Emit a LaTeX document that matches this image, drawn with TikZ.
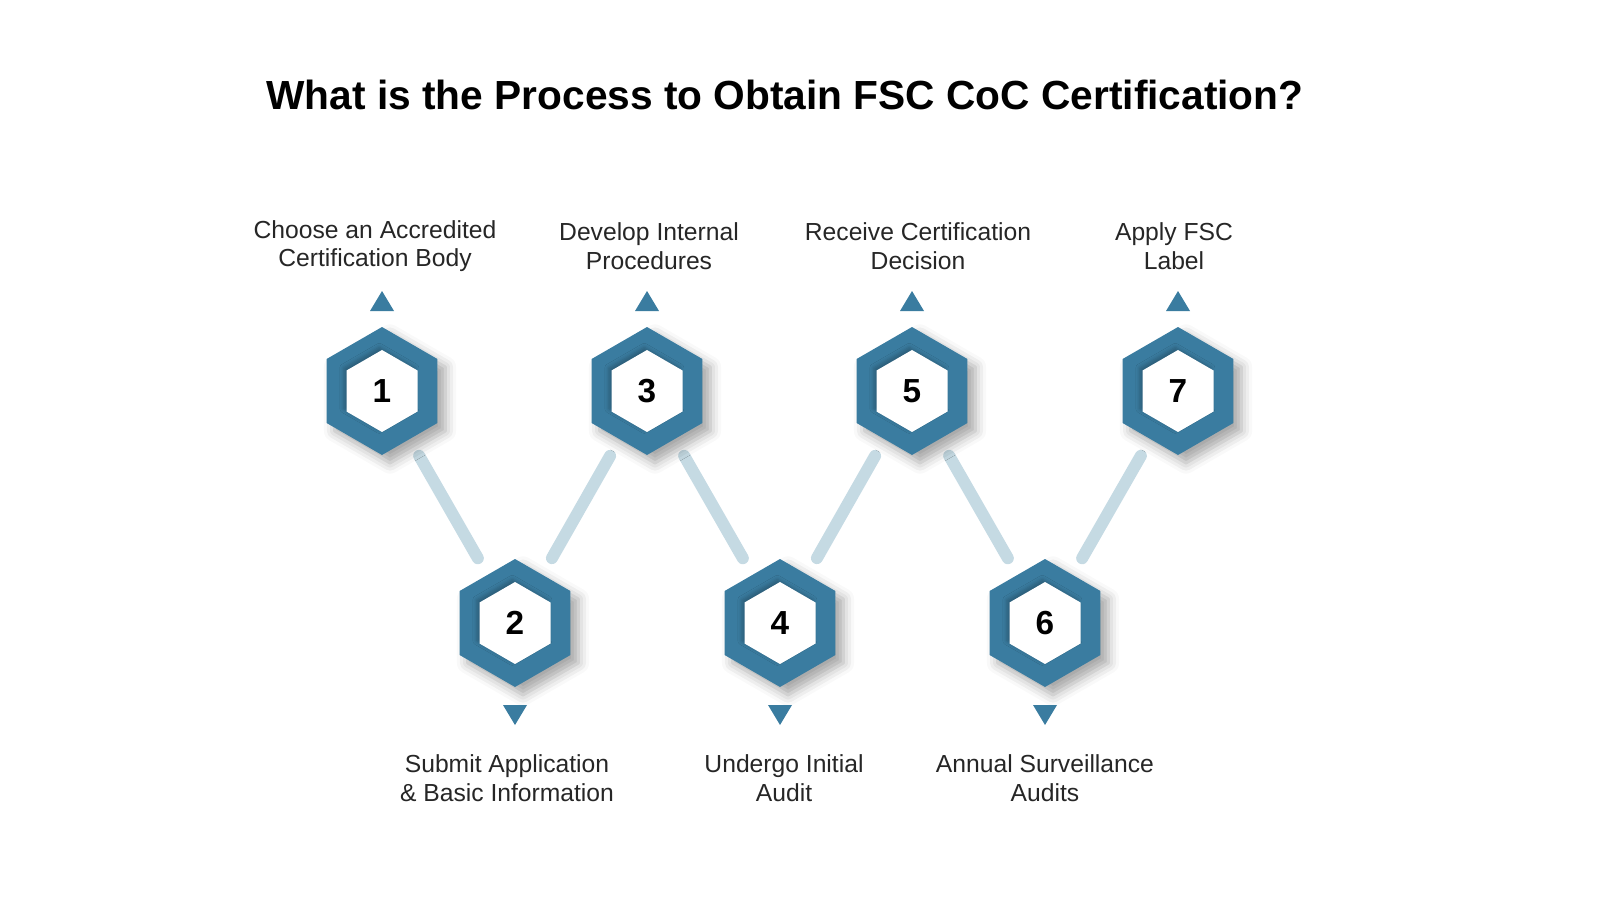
\documentclass[tikz,border=0pt]{standalone}
\usepackage{fontspec}
\setmainfont{Liberation Sans}
\usetikzlibrary{shadows.blur,calc}
\definecolor{hexblue}{HTML}{3A7CA0}
\definecolor{linkc}{HTML}{C5DAE3}
\begin{document}
\begin{tikzpicture}[x=0.75pt,y=-0.75pt,
  link/.style={draw=linkc,line width=9pt,line cap=round,shorten >=56pt,shorten <=56pt},
  lbl/.style={align=center,font=\fontsize{18.5}{21.5}\selectfont,text=black!85},
  num/.style={font=\fontsize{25}{28}\selectfont\bfseries},
  tri/.style={fill=hexblue}]
\useasboundingbox (0,0) rectangle (1600,900);
\node[font=\fontsize{30.5}{34}\selectfont\bfseries] (title) at (785,95) {What is the Process to Obtain FSC CoC Certification?};
\foreach \n/\x/\y in {1/382/391,3/647/391,5/912/391,7/1178/391,2/515/623,4/780/623,6/1045/623}{
  \coordinate (h\n) at (\x,\y);
}
\draw[link] (h1) -- (h2);
\draw[link] (h2) -- (h3);
\draw[link] (h3) -- (h4);
\draw[link] (h4) -- (h5);
\draw[link] (h5) -- (h6);
\draw[link] (h6) -- (h7);
\foreach \n in {1,...,7}{
  \fill[hexblue,blur shadow={shadow xshift=6pt,shadow yshift=-6pt,shadow blur radius=8pt,shadow opacity=35}]
    (h\n) ++(0,-64) -- ++(-55.4,32) -- ++(0,64) -- ++(55.4,32) -- ++(55.4,-32) -- ++(0,-64) -- cycle;
  \fill[white,blur shadow={shadow xshift=-2pt,shadow yshift=2pt,shadow blur radius=3pt,shadow opacity=25}]
    (h\n) ++(0,-41) -- ++(-35.5,20.5) -- ++(0,41) -- ++(35.5,20.5) -- ++(35.5,-20.5) -- ++(0,-41) -- cycle;
  \node[num] (n\n) at (h\n) {\n};
}
\foreach \n in {1,3,5,7}{
  \fill[tri] ($(h\n)+(0,-100)$) -- ++(-12,20) -- ++(24,0) -- cycle;
}
\foreach \n in {2,4,6}{
  \fill[tri] ($(h\n)+(0,102)$) -- ++(-12,-20) -- ++(24,0) -- cycle;
}
\node[lbl] (l1) at (375,246) {Choose an Accredited\\Certification Body};
\node[lbl] (l3) at (649,246) {Develop Internal\\Procedures};
\node[lbl] (l5) at (918,246) {Receive Certification\\Decision};
\node[lbl] (l7) at (1174,246) {Apply FSC\\Label};
\node[lbl] (l2) at (507,778) {Submit Application\\\& Basic Information};
\node[lbl] (l4) at (784,778) {Undergo Initial\\Audit};
\node[lbl] (l6) at (1045,778) {Annual Surveillance\\Audits};
\end{tikzpicture}
\end{document}
